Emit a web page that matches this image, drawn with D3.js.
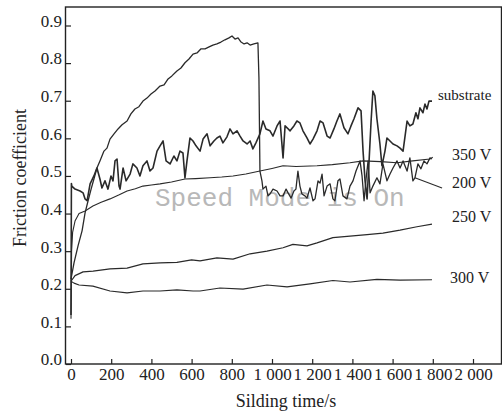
<!DOCTYPE html>
<html>
<head>
  <meta charset="utf-8">
  <title>Friction coefficient vs sliding time</title>
  <script src="https://cdn.jsdelivr.net/npm/d3@7/dist/d3.min.js"></script>
  <style>
    body { margin: 0; background: #fff; }
    svg text { font-family: "Liberation Serif", "Times New Roman", Times, serif; fill: #222; }
    .tick line { stroke: #222; stroke-width: 1.2px; }
    .curve { fill: none; stroke: #2a2a2a; stroke-linejoin: round; }
  </style>
</head>
<body>
<svg id="chart" width="502" height="413"></svg>

<script type="text/javascript">
  // [time (s), friction coefficient]
  var substrate = [[0,0.13],[2,0.48],[4,0.473],[20,0.465],[45,0.46],[60,0.455],[70,0.439],[80,0.434],[95,0.479],
    [114,0.5],[129,0.521],[144,0.492],[154,0.468],[169,0.487],[184,0.465],[199,0.5],[209,0.487],[219,0.54],
    [229,0.545],[239,0.473],[244,0.465],[259,0.521],[274,0.487],[294,0.505],[308,0.532],[328,0.521],[343,0.5],
    [358,0.527],[378,0.54],[393,0.513],[408,0.521],[428,0.566],[443,0.58],[458,0.593],[473,0.54],[493,0.532],
    [512,0.553],[527,0.54],[542,0.566],[557,0.561],[567,0.495],[577,0.54],[592,0.601],[607,0.593],[622,0.58],
    [642,0.566],[657,0.598],[677,0.612],[692,0.58],[711,0.593],[726,0.601],[741,0.606],[756,0.588],[776,0.604],
    [791,0.625],[806,0.612],[826,0.62],[841,0.606],[856,0.593],[876,0.585],[891,0.593],[905,0.572],[920,0.588],
    [940,0.612],[955,0.646],[970,0.625],[990,0.62],[1005,0.606],[1025,0.633],[1040,0.646],[1055,0.548],
    [1065,0.633],[1075,0.628],[1090,0.62],[1109,0.633],[1124,0.646],[1139,0.641],[1154,0.62],[1174,0.601],
    [1189,0.585],[1204,0.598],[1224,0.62],[1239,0.646],[1254,0.641],[1274,0.606],[1289,0.601],[1308,0.625],
    [1323,0.646],[1338,0.665],[1358,0.628],[1378,0.612],[1393,0.633],[1408,0.652],[1428,0.681],[1443,0.673],
    [1453,0.566],[1463,0.487],[1473,0.439],[1483,0.54],[1493,0.646],[1502,0.726],[1512,0.713],[1522,0.652],
    [1537,0.585],[1547,0.527],[1562,0.566],[1572,0.601],[1587,0.593],[1602,0.585],[1622,0.58],[1637,0.574],
    [1652,0.566],[1662,0.606],[1672,0.646],[1686,0.633],[1701,0.638],[1716,0.668],[1726,0.652],[1736,0.681],
    [1751,0.668],[1761,0.691],[1771,0.678],[1781,0.699],[1796,0.699]];

  var v200 = [[0,0.226],[15,0.269],[35,0.314],[55,0.354],[70,0.402],[85,0.434],[100,0.465],[114,0.492],
    [129,0.521],[144,0.54],[164,0.566],[179,0.574],[194,0.598],[214,0.612],[234,0.625],[254,0.636],[279,0.646],
    [298,0.665],[318,0.678],[338,0.684],[358,0.699],[378,0.707],[398,0.718],[418,0.726],[443,0.739],[463,0.742],
    [483,0.758],[502,0.766],[527,0.779],[547,0.787],[567,0.801],[587,0.811],[607,0.824],[627,0.827],[647,0.838],
    [667,0.838],[687,0.843],[706,0.848],[726,0.851],[746,0.856],[766,0.862],[786,0.867],[801,0.872],[816,0.864],
    [831,0.867],[846,0.856],[861,0.851],[876,0.854],[891,0.848],[910,0.851],[930,0.854],[935,0.761],[940,0.513],
    [950,0.487],[955,0.465],[970,0.473],[980,0.447],[990,0.452],[1005,0.465],[1025,0.46],[1040,0.447],
    [1055,0.447],[1070,0.465],[1080,0.455],[1095,0.441],[1109,0.46],[1119,0.465],[1129,0.513],[1139,0.473],
    [1149,0.452],[1164,0.447],[1174,0.441],[1189,0.468],[1204,0.434],[1214,0.439],[1229,0.487],[1239,0.481],
    [1249,0.505],[1259,0.447],[1274,0.473],[1289,0.479],[1303,0.439],[1313,0.434],[1328,0.487],[1338,0.492],
    [1353,0.447],[1373,0.439],[1388,0.473],[1403,0.487],[1418,0.513],[1438,0.54],[1448,0.5],[1458,0.434],
    [1468,0.492],[1478,0.54],[1488,0.455],[1502,0.473],[1522,0.495],[1537,0.479],[1552,0.532],[1572,0.487],
    [1587,0.505],[1602,0.521],[1622,0.54],[1637,0.521],[1652,0.54],[1672,0.513],[1686,0.548],[1701,0.487],
    [1711,0.495],[1726,0.532],[1741,0.519],[1756,0.54],[1771,0.532],[1786,0.548],[1796,0.545]];

  var v350 = [[0,0.12],[3,0.3],[8,0.35],[20,0.38],[40,0.4],[70,0.407],[109,0.42],[150,0.43],[194,0.439],
    [240,0.45],[279,0.46],[320,0.466],[358,0.473],[400,0.476],[443,0.479],[500,0.484],[567,0.492],[620,0.493],
    [692,0.495],[750,0.497],[806,0.5],[870,0.505],[940,0.513],[1000,0.52],[1055,0.527],[1120,0.525],
    [1224,0.527],[1300,0.53],[1388,0.535],[1453,0.54],[1540,0.538],[1622,0.535],[1700,0.54],[1786,0.545],
    [1800,0.55]];

  var v250 = [[0,0.22],[20,0.235],[60,0.245],[110,0.247],[194,0.253],[279,0.255],[358,0.266],[443,0.269],
    [527,0.27],[600,0.277],[642,0.274],[726,0.282],[806,0.279],[891,0.293],[975,0.3],[1055,0.309],[1104,0.318],
    [1174,0.314],[1224,0.322],[1303,0.336],[1388,0.34],[1473,0.344],[1552,0.348],[1637,0.356],[1721,0.365],
    [1796,0.372]];

  var v300 = [[0,0.22],[15,0.215],[40,0.21],[109,0.207],[194,0.194],[279,0.189],[358,0.194],[443,0.194],
    [527,0.197],[607,0.194],[642,0.194],[741,0.202],[856,0.199],[975,0.21],[1075,0.205],[1189,0.213],
    [1303,0.222],[1388,0.218],[1522,0.225],[1637,0.223],[1796,0.224]];

  var xTicks = [0, 200, 400, 600, 800, 1000, 1200, 1400, 1600, 1800, 2000];
  var yTicks = [0, 0.1, 0.2, 0.3, 0.4, 0.5, 0.6, 0.7, 0.8, 0.9];

  var curveNames = ['substrate', '350 V', '200 V', '250 V', '300 V'];
  var labelAt = [[1826, 0.702], [1896, 0.543], [1896, 0.468], [1896, 0.378], [1886, 0.215]];
  var leader = [[1711, 0.495], [1846, 0.468]];

  var svg = d3.select('#chart');
  var serif = '"Liberation Serif", "Times New Roman", Times, serif';

  var x = d3.scaleLinear().domain([0, 2000]).range([71, 473]);
  var y = d3.scaleLinear().domain([0, 0.9]).range([364, 25.5]);

  // frame
  svg.append('rect')
    .attr('x', 65.5).attr('y', 7)
    .attr('width', 436).attr('height', 357)
    .attr('fill', 'none').attr('stroke', '#222').attr('stroke-width', 1.4);

  // watermark from the scan
  svg.append('text')
    .attr('x', 155).attr('y', 206)
    .style('font-family', '"Liberation Mono", monospace')
    .style('font-size', '26px')
    .style('fill', '#b8b8b8')
    .text('Speed Mode is On');

  var fmtX = function(d) { return d >= 1000 ? Math.floor(d / 1000) + ' ' + d3.format('03d')(d % 1000) : d; };

  var gx = svg.append('g')
    .attr('transform', 'translate(0,364)')
    .call(d3.axisBottom(x).tickValues(xTicks).tickFormat(fmtX).tickSizeInner(-5).tickSizeOuter(0).tickPadding(4));
  gx.attr('font-family', null);
  gx.select('.domain').remove();
  gx.selectAll('text').style('font-size', '17px').style('font-family', serif).attr('fill', '#222');

  var gy = svg.append('g')
    .attr('transform', 'translate(66,0)')
    .call(d3.axisLeft(y).tickValues(yTicks).tickFormat(d3.format('.1f')).tickSizeInner(-5).tickSizeOuter(0).tickPadding(4));
  gy.attr('font-family', null);
  gy.select('.domain').remove();
  gy.selectAll('text').style('font-size', '17px').style('font-family', serif)
    .attr('fill', '#222').attr('dy', '0.05em');

  var line = d3.line().x(d => x(d[0])).y(d => y(d[1]));

  var series = [
    { data: v300, w: 1.1 },
    { data: v250, w: 1.2 },
    { data: v350, w: 1.1 },
    { data: v200, w: 1.3 },
    { data: substrate, w: 1.6 }
  ];

  svg.selectAll('path.curve')
    .data(series)
    .enter()
    .append('path')
    .attr('class', 'curve')
    .attr('stroke-width', d => d.w)
    .attr('d', d => line(d.data));

  svg.append('path')
    .attr('class', 'curve')
    .attr('stroke-width', 1.1)
    .attr('d', line(leader));

  svg.selectAll('text.lab')
    .data(curveNames)
    .enter()
    .append('text')
    .attr('class', 'lab')
    .attr('x', (d, i) => x(labelAt[i][0]))
    .attr('y', (d, i) => y(labelAt[i][1]))
    .style('font-family', serif)
    .style('font-size', (d, i) => i === 0 ? '15px' : '16px')
    .text(d => d);

  svg.append('text')
    .attr('x', 286).attr('y', 407)
    .attr('text-anchor', 'middle')
    .style('font-family', serif)
    .style('font-size', '18px')
    .text('Silding time/s');

  svg.append('text')
    .attr('transform', 'translate(26,178) rotate(-90)')
    .attr('text-anchor', 'middle')
    .style('font-family', serif)
    .style('font-size', '18px')
    .text('Friction coefficient');
</script>
</body>
</html>
